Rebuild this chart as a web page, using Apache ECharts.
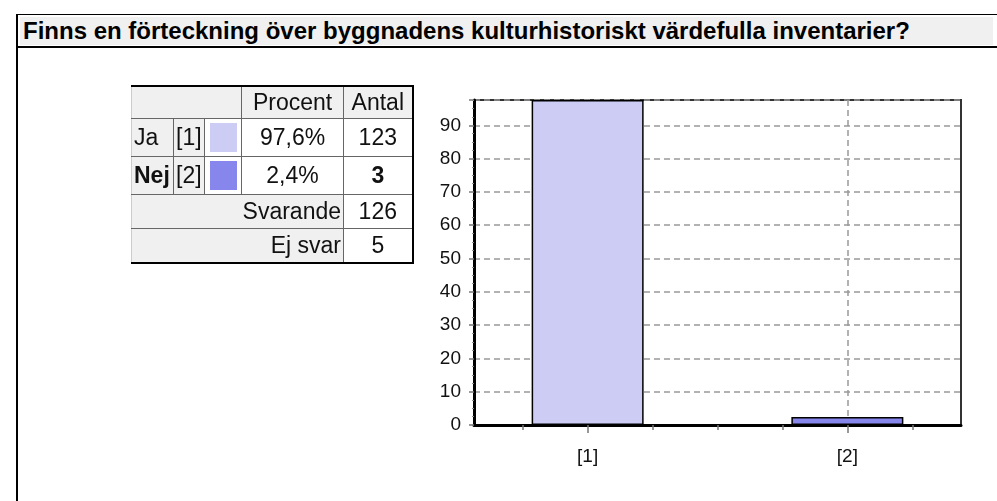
<!DOCTYPE html>
<html>
<head>
<meta charset="utf-8">
<script src="https://cdn.jsdelivr.net/npm/echarts@6/dist/echarts.min.js"></script>
<style>
	body { margin: 0; background: #fff; font-family: "Liberation Sans", Arial, sans-serif; }
	#chart { position: absolute; left: 0; top: 0; width: 997px; height: 501px; }
	#frame { position: absolute; left: 16px; top: 14px; right: 0; bottom: 0; border-left: 2px solid #000; border-top: 1px solid #000; }
	#title { position: absolute; left: 2px; top: 2px; right: 4px; height: 28px; line-height: 28px; background: #f0f0f0;
		font-weight: bold; font-size: 24px; color: #000; padding-left: 3px; white-space: nowrap; }
	#titleLine { position: absolute; left: 0; right: 0; top: 31px; border-top: 2px solid #000; }
	#tbl { position: absolute; left: 131px; top: 85px; border-collapse: collapse; table-layout: fixed; width: 281px;
		font-size: 23px; color: #111; }
	#tbl td { border: 1px solid #666; padding: 0 2px; background: #fff; white-space: nowrap; overflow: hidden; }
	#tbl td.g { background: #f0f0f0; }
	#tbl tr:first-child td { border-top: 2px solid #000; }
	#tbl td:last-child { border-right: 2px solid #000; }
	#tbl tr:last-child td { border-bottom: 2px solid #000; }
	#tbl td:first-child { border-left: 1px solid #ccc; }
	.sw { width: 27px; height: 29px; margin: 0 auto; }
</style>
</head>
<body>
<div id="chart"></div>
<div id="frame">
	<div id="title"></div>
	<div id="titleLine"></div>
</div>
<table id="tbl">
	<colgroup><col style="width:42px"><col style="width:31px"><col style="width:37px"><col style="width:102px"><col style="width:69px"></colgroup>
	<tbody id="tbody"></tbody>
</table>

<script>
	var titleText = 'Finns en förteckning över byggnadens kulturhistoriskt värdefulla inventarier?';
	var answers = ['Ja', 'Nej'];
	var categories = ['[1]', '[2]'];
	var percents = [97.6, 2.4];
	var counts = [123, 3];
	var answered = 126;
	var noAnswer = 5;
	var colors = ['#ccccf4', '#8686ec'];

	document.getElementById('title').textContent = titleText;

	// tabellen till vänster
	function fmt(p) { return p.toFixed(1).replace('.', ',') + '%'; }
	var html = '<tr style="height:32px"><td class="g" colspan="3"></td>' +
		'<td class="g" style="text-align:center">Procent</td>' +
		'<td class="g" style="text-align:center">Antal</td></tr>';
	for (var i = 0; i < answers.length; i++) {
		var bold = i == answers.length - 1 ? 'font-weight:bold;' : '';
		html += '<tr style="height:38px">' +
			'<td class="g" style="' + bold + '">' + answers[i] + '</td>' +
			'<td class="g">' + categories[i] + '</td>' +
			'<td><div class="sw" style="background:' + colors[i] + '"></div></td>' +
			'<td style="text-align:center">' + fmt(percents[i]) + '</td>' +
			'<td style="text-align:center;' + bold + '">' + counts[i] + '</td></tr>';
	}
	html += '<tr style="height:34px"><td class="g" colspan="4" style="text-align:right">Svarande</td>' +
		'<td style="text-align:center">' + answered + '</td></tr>';
	html += '<tr style="height:35px"><td class="g" colspan="4" style="text-align:right">Ej svar</td>' +
		'<td style="text-align:center">' + noAnswer + '</td></tr>';
	document.getElementById('tbody').innerHTML = html;

	// stapeldiagrammet
	var catPos = categories.map(function (c, i) { return i + 1; });
	var minorPos = [];
	for (var v = 0.75; v < 2.4; v += 0.25) {
		if (catPos.indexOf(v) < 0) minorPos.push(v);
	}
	var xMin = 0.5625, xMax = 2.4375;

	var myChart = echarts.init(document.getElementById('chart'));
	var option = {
		animation: false,
		grid: {
			left: 474, right: 36, top: 100, bottom: 76,
			show: true, borderColor: '#333', borderWidth: 2, backgroundColor: '#fff'
		},
		xAxis: [{
			type: 'value', min: xMin, max: xMax, position: 'bottom',
			axisLine: { show: true, lineStyle: { color: '#000', width: 3 } },
			axisTick: { show: true, customValues: catPos, length: 8, lineStyle: { color: '#777', width: 1.5 } },
			axisLabel: {
				customValues: catPos, color: '#111', fontSize: 19, margin: 22,
				formatter: function (v) { return categories[Math.round(v) - 1]; }
			},
			splitLine: { show: true, lineStyle: { type: [6, 4], color: '#999', width: 1.5 } }
		}, {
			type: 'value', min: xMin, max: xMax, position: 'bottom',
			axisLine: { show: false },
			axisTick: { show: true, customValues: minorPos, length: 5, lineStyle: { color: '#777', width: 1.5 } },
			axisLabel: { show: false },
			splitLine: { show: false }
		}],
		yAxis: {
			type: 'value', min: 0, max: Math.max.apply(null, percents), interval: 10,
			axisLine: { show: true, lineStyle: { color: '#000', width: 3 } },
			axisTick: { show: true, length: 5, lineStyle: { color: '#777', width: 1.5 } },
			minorTick: { show: true, splitNumber: 4, length: 2, lineStyle: { color: '#888' } },
			axisLabel: { color: '#111', fontSize: 19, margin: 13, showMaxLabel: false },
			splitLine: { show: true, lineStyle: { type: [6, 4], color: '#999', width: 1.5 } }
		},
		series: [{
			type: 'bar',
			barWidth: 112,
			data: percents.map(function (p, i) {
				return { value: [catPos[i], p], itemStyle: { color: colors[i] } };
			}),
			itemStyle: { borderColor: '#000', borderWidth: 1.5 }
		}]
	};
	myChart.setOption(option);
</script>
</body>
</html>
